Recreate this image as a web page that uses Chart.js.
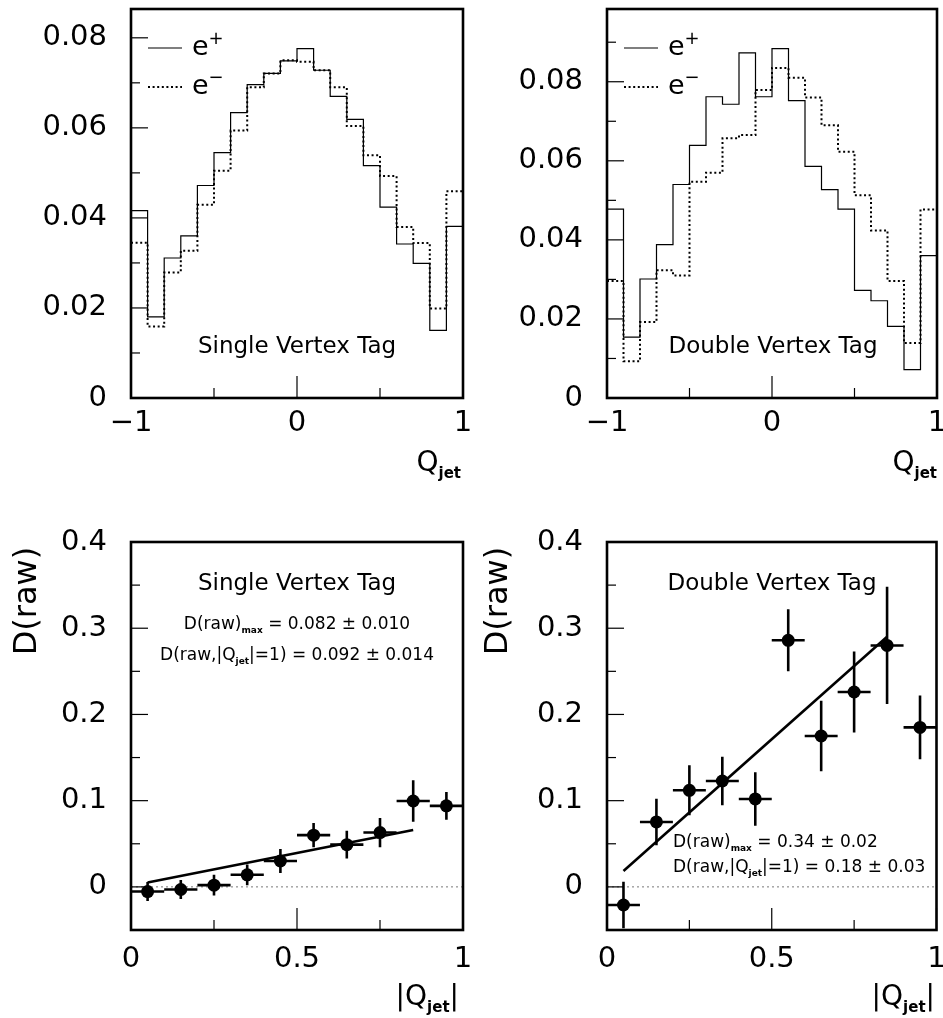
<!DOCTYPE html>
<html>
<head>
<meta charset="utf-8">
<script src="https://cdn.jsdelivr.net/npm/chart.js@4/dist/chart.umd.min.js"></script>
<style>
  html, body { margin: 0; padding: 0; background: #fff; }
  #fig { position: relative; width: 943px; height: 1018px; overflow: hidden; }
  canvas { position: absolute; }
</style>
</head>
<body>
<div id="fig">
  <canvas id="c1" width="471" height="510" style="left:0;top:0"></canvas>
  <canvas id="c2" width="472" height="510" style="left:471px;top:0"></canvas>
  <canvas id="c3" width="471" height="508" style="left:0;top:510px"></canvas>
  <canvas id="c4" width="472" height="508" style="left:471px;top:510px"></canvas>
</div>
<script>
// ---- data ----
// Q_jet histogram bins (20 bins, -1 .. 1)
const BIN_EDGES = [-1, -0.9, -0.8, -0.7, -0.6, -0.5, -0.4, -0.3, -0.2, -0.1, 0,
                   0.1, 0.2, 0.3, 0.4, 0.5, 0.6, 0.7, 0.8, 0.9, 1];
const SVT_EPLUS  = [0.0416, 0.0180, 0.0311, 0.0360, 0.0472, 0.0545, 0.0634, 0.0696, 0.0721, 0.0749,
                    0.0776, 0.0728, 0.0670, 0.0619, 0.0516, 0.0424, 0.0342, 0.0299, 0.0150, 0.0381];
const SVT_EMINUS = [0.0345, 0.0159, 0.0279, 0.0327, 0.0429, 0.0505, 0.0594, 0.0690, 0.0721, 0.0750,
                    0.0747, 0.0728, 0.0690, 0.0604, 0.0539, 0.0493, 0.0380, 0.0344, 0.0199, 0.0459];
const DVT_EPLUS  = [0.0478, 0.0154, 0.0301, 0.0388, 0.0540, 0.0639, 0.0762, 0.0743, 0.0873, 0.0762,
                    0.0884, 0.0752, 0.0586, 0.0527, 0.0478, 0.0272, 0.0246, 0.0181, 0.0072, 0.0360];
const DVT_EMINUS = [0.0296, 0.0093, 0.0192, 0.0323, 0.0310, 0.0547, 0.0570, 0.0657, 0.0665, 0.0779,
                    0.0835, 0.0810, 0.0760, 0.0690, 0.0623, 0.0513, 0.0424, 0.0296, 0.0139, 0.0477];

// D(raw) vs |Q_jet|
const QBIN      = [0.05, 0.15, 0.25, 0.35, 0.45, 0.55, 0.65, 0.75, 0.85, 0.95];
const QBIN_HALF = 0.05;
const SVT_D     = [-0.0054, -0.003, 0.002, 0.014, 0.030, 0.060, 0.049, 0.063, 0.0996, 0.094];
const SVT_DERR  = [0.011, 0.011, 0.012, 0.012, 0.014, 0.014, 0.016, 0.017, 0.024, 0.016];
const DVT_D     = [-0.021, 0.0753, 0.112, 0.1228, 0.102, 0.286, 0.175, 0.226, 0.280, 0.185];
const DVT_DERR  = [0.027, 0.027, 0.029, 0.028, 0.031, 0.036, 0.041, 0.047, 0.068, 0.037];
const SVT_FIT_X = [0.05, 0.85];
const SVT_FIT_Y = [0.005, 0.066];
const DVT_FIT_X = [0.05, 0.85];
const DVT_FIT_Y = [0.0185, 0.290];

// tick labels
const HIST_X_TICKS   = [-1, 0, 1];
const HIST_X_MINOR   = [-0.5, 0.5];
const HIST_Y_TICKS   = [0, 0.02, 0.04, 0.06, 0.08];
const HIST_Y_MINOR   = [0.01, 0.03, 0.05, 0.07, 0.09];
const D_X_TICKS      = [0, 0.5, 1];
const D_X_MINOR      = [0.25, 0.75];
const D_Y_TICKS      = [0, 0.1, 0.2, 0.3, 0.4];
const D_Y_MINOR      = [0.05, 0.15, 0.25, 0.35];

const FONT = "'DejaVu Sans', sans-serif";
const TICK_FONT = {family: "'DejaVu Sans'", size: 29};

// ---- helpers ----
function histPoints(vals) {
  const pts = vals.map((v, i) => ({x: BIN_EDGES[i], y: v}));
  pts.push({x: BIN_EDGES[BIN_EDGES.length - 1], y: vals[vals.length - 1]});
  return pts;
}

function errorBarPoints(xs, ys, es) {
  const pts = [];
  xs.forEach((x, i) => {
    pts.push({x: x - QBIN_HALF, y: ys[i]}, {x: x + QBIN_HALF, y: ys[i]}, {x: x, y: null});
    pts.push({x: x, y: ys[i] - es[i]}, {x: x, y: ys[i] + es[i]}, {x: x, y: null});
  });
  return pts;
}

// parts: [[text, 'n'|'sub'|'sup'], ...]
function drawRich(ctx, parts, x, baseline, size, align) {
  const fontOf = k => k === 'n' ? `${size}px ${FONT}`
                   : k === 'sub' ? `bold ${Math.round(size * 0.55)}px ${FONT}`
                   : `${Math.round(size * 0.66)}px ${FONT}`;
  let w = 0;
  parts.forEach(([t, k]) => { ctx.font = fontOf(k); w += ctx.measureText(t).width; });
  let cx = align === 'center' ? x - w / 2 : align === 'right' ? x - w : x;
  ctx.textAlign = 'left';
  ctx.textBaseline = 'alphabetic';
  parts.forEach(([t, k]) => {
    ctx.font = fontOf(k);
    const dy = k === 'sub' ? size * 0.26 : k === 'sup' ? -size * 0.42 : 0;
    ctx.fillText(t, cx, baseline + dy);
    cx += ctx.measureText(t).width;
  });
}

function line(ctx, x1, y1, x2, y2) {
  ctx.beginPath(); ctx.moveTo(x1, y1); ctx.lineTo(x2, y2); ctx.stroke();
}

// frame, inward tick marks, legend and text, drawn over the plot
function framePlugin(cfg) {
  return {
    id: 'frame',
    afterDraw(chart) {
      const {ctx, chartArea: a, scales: {x, y}} = chart;
      ctx.save();
      ctx.strokeStyle = '#000';
      ctx.fillStyle = '#000';
      ctx.lineWidth = 1.2;
      cfg.xMajor.forEach(v => { const p = x.getPixelForValue(v); line(ctx, p, a.bottom, p, a.bottom - 22); });
      cfg.xMinor.forEach(v => { const p = x.getPixelForValue(v); line(ctx, p, a.bottom, p, a.bottom - 10); });
      cfg.yMajor.forEach(v => { const p = y.getPixelForValue(v); line(ctx, a.left, p, a.left + 17, p); });
      cfg.yMinor.forEach(v => {
        const p = y.getPixelForValue(v);
        if (p > a.top + 1) line(ctx, a.left, p, a.left + 9, p);
      });
      ctx.lineWidth = 2.6;
      ctx.strokeRect(a.left, a.top, a.right - a.left, a.bottom - a.top);

      if (cfg.legend) {
        ctx.lineWidth = 1.2;
        line(ctx, a.left + 17, 48, a.left + 51, 48);
        ctx.lineWidth = 2;
        ctx.setLineDash([2, 2.6]);
        line(ctx, a.left + 17, 87, a.left + 51, 87);
        ctx.setLineDash([]);
        drawRich(ctx, [['e', 'n'], ['+', 'sup']], a.left + 61, 55, 27, 'left');
        drawRich(ctx, [['e', 'n'], ['\u2212', 'sup']], a.left + 61, 94, 27, 'left');
      }
      cfg.texts.forEach(t => drawRich(ctx, t.parts, t.x, t.y, t.size, t.align));

      if (cfg.yTitle) {
        ctx.save();
        ctx.translate(cfg.yTitle.x, cfg.yTitle.y);
        ctx.rotate(-Math.PI / 2);
        ctx.font = `${cfg.yTitle.size}px ${FONT}`;
        ctx.textAlign = 'center';
        ctx.textBaseline = 'middle';
        ctx.fillText(cfg.yTitle.text, 0, 0);
        ctx.restore();
      }
      ctx.restore();
    }
  };
}

function scales(g) {
  return {
    x: {
      type: 'linear', min: g.xMin, max: g.xMax,
      grid: {display: false, drawTicks: false}, border: {display: false},
      afterBuildTicks: s => { s.ticks = g.xTicks.map(v => ({value: v})); },
      ticks: {font: TICK_FONT, color: '#000', padding: g.xPad, maxRotation: 0, autoSkip: false, callback: g.xFmt},
      afterFit: s => { s.height = g.xH; s.paddingLeft = 0; s.paddingRight = 0; }
    },
    y: {
      type: 'linear', min: g.yMin, max: g.yMax,
      grid: {display: false, drawTicks: false}, border: {display: false},
      afterBuildTicks: s => { s.ticks = g.yTicks.map(v => ({value: v})); },
      ticks: {font: TICK_FONT, color: '#000', padding: 24, autoSkip: false, callback: g.yFmt},
      afterFit: s => { s.width = g.yW; s.paddingTop = 0; s.paddingBottom = 0; }
    }
  };
}

const histFmtX = v => v < 0 ? '\u2212' + Math.abs(v) : String(v);
const histFmtY = v => v === 0 ? '0' : v.toFixed(2);
const dFmtX = v => String(v);
const dFmtY = v => v === 0 ? '0' : v.toFixed(1);

function histChart(id, eplus, eminus, g, tag) {
  new Chart(document.getElementById(id), {
    type: 'scatter',
    data: {
      datasets: [
        {data: histPoints(eplus), showLine: true, stepped: 'before', borderColor: '#000', borderWidth: 1.2, pointRadius: 0},
        {data: histPoints(eminus), showLine: true, stepped: 'before', borderColor: '#000', borderWidth: 2, borderDash: [2, 2.6], pointRadius: 0}
      ]
    },
    options: {
      responsive: false, animation: false, events: [],
      layout: {padding: {top: g.top, right: g.right, left: 0, bottom: 0}},
      plugins: {legend: {display: false}, tooltip: {enabled: false}},
      scales: scales(Object.assign({xMin: -1, xMax: 1, xTicks: HIST_X_TICKS, xFmt: histFmtX, xPad: 8, xH: 112,
                                    yTicks: HIST_Y_TICKS, yFmt: histFmtY, yMin: 0}, g))
    },
    plugins: [framePlugin({
      xMajor: HIST_X_TICKS, xMinor: HIST_X_MINOR, yMajor: HIST_Y_TICKS, yMinor: HIST_Y_MINOR, legend: true,
      texts: [
        {parts: [[tag, 'n']], x: g.yW + 166, y: 353, size: 23, align: 'center'},
        {parts: [['Q', 'n'], ['jet', 'sub']], x: g.xR, y: 471, size: 28, align: 'right'}
      ]
    })]
  });
}

function dChart(id, ys, es, fx, fy, g, texts) {
  new Chart(document.getElementById(id), {
    type: 'scatter',
    data: {
      datasets: [
        {data: QBIN.map((x, i) => ({x, y: ys[i]})), pointRadius: 6.5, pointBackgroundColor: '#000', pointBorderWidth: 0},
        {data: errorBarPoints(QBIN, ys, es), showLine: true, spanGaps: false, borderColor: '#000', borderWidth: 2.6, pointRadius: 0},
        {data: fx.map((x, i) => ({x, y: fy[i]})), showLine: true, borderColor: '#000', borderWidth: 2.6, pointRadius: 0},
        {data: [{x: 0, y: 0}, {x: 1, y: 0}], showLine: true, borderColor: '#777', borderWidth: 1, borderDash: [2, 3], pointRadius: 0}
      ]
    },
    options: {
      responsive: false, animation: false, events: [],
      layout: {padding: {top: 32, right: g.right, left: 0, bottom: 0}},
      plugins: {legend: {display: false}, tooltip: {enabled: false}},
      scales: scales(Object.assign({xMin: 0, xMax: 1, xTicks: D_X_TICKS, xFmt: dFmtX, xPad: 12, xH: 88,
                                    yMin: -0.05, yMax: 0.4, yTicks: D_Y_TICKS, yFmt: dFmtY}, g))
    },
    plugins: [framePlugin({
      xMajor: D_X_TICKS, xMinor: D_X_MINOR, yMajor: D_Y_TICKS, yMinor: D_Y_MINOR, legend: false,
      texts: texts.concat([
        {parts: [['|Q', 'n'], ['jet', 'sub'], ['|', 'n']], x: g.xR, y: 495, size: 28, align: 'right'}
      ]),
      yTitle: {text: 'D(raw)', x: 28, y: 91, size: 32}
    })]
  });
}

histChart('c1', SVT_EPLUS, SVT_EMINUS, {yW: 131, right: 8, top: 9, yMax: 0.0864, xR: 461}, 'Single Vertex Tag');
histChart('c2', DVT_EPLUS, DVT_EMINUS, {yW: 136, right: 6, top: 9, yMax: 0.0984, xR: 466}, 'Double Vertex Tag');

dChart('c3', SVT_D, SVT_DERR, SVT_FIT_X, SVT_FIT_Y, {yW: 131, right: 8, xR: 459}, [
  {parts: [['Single Vertex Tag', 'n']], x: 297, y: 80, size: 23, align: 'center'},
  {parts: [['D(raw)', 'n'], ['max', 'sub'], [' = 0.082 \u00b1 0.010', 'n']], x: 297, y: 119, size: 17, align: 'center'},
  {parts: [['D(raw,|Q', 'n'], ['jet', 'sub'], ['|=1) = 0.092 \u00b1 0.014', 'n']], x: 297, y: 150, size: 17, align: 'center'}
]);
dChart('c4', DVT_D, DVT_DERR, DVT_FIT_X, DVT_FIT_Y, {yW: 136, right: 6, xR: 464}, [
  {parts: [['Double Vertex Tag', 'n']], x: 301, y: 80, size: 23, align: 'center'},
  {parts: [['D(raw)', 'n'], ['max', 'sub'], [' = 0.34 \u00b1 0.02', 'n']], x: 202, y: 337, size: 17, align: 'left'},
  {parts: [['D(raw,|Q', 'n'], ['jet', 'sub'], ['|=1) = 0.18 \u00b1 0.03', 'n']], x: 202, y: 362, size: 17, align: 'left'}
]);
</script>
</body>
</html>
